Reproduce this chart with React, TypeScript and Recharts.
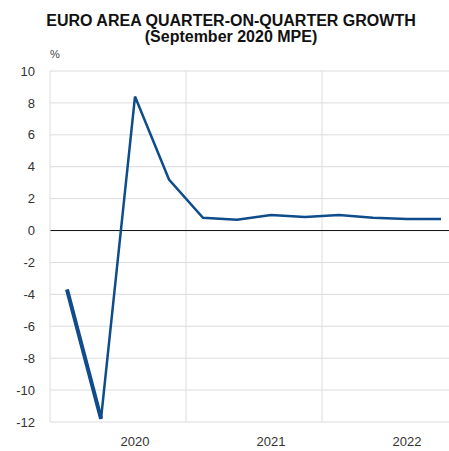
import { CartesianGrid, Line, LineChart, ReferenceLine, XAxis, YAxis } from "recharts"

const quarters = [
  "2020Q1", "2020Q2", "2020Q3", "2020Q4",
  "2021Q1", "2021Q2", "2021Q3", "2021Q4",
  "2022Q1", "2022Q2", "2022Q3", "2022Q4",
]
const outturn = [-3.7, -11.8, null, null, null, null, null, null, null, null, null, null]
const projection = [-3.7, -11.8, 8.4, 3.2, 0.8, 0.67, 0.97, 0.85, 0.97, 0.8, 0.73, 0.73]
const yTicks = [-12, -10, -8, -6, -4, -2, 0, 2, 4, 6, 8, 10]
const yearTicks = [2020.625, 2021.625, 2022.625]
const yearBreaks = [2021, 2022]

const data = quarters.map((q, i) => ({
  t: Number(q.slice(0, 4)) + (Number(q.slice(5)) - 0.5) / 4,
  outturn: outturn[i],
  projection: projection[i],
}))

const tickStyle = { fill: "#333", fontSize: 13, fontFamily: "Liberation Sans, Arial, sans-serif" }

const titleStyle = {
  position: "absolute" as const,
  left: 0,
  width: 462,
  textAlign: "center" as const,
  fontWeight: 700,
  fontSize: 16,
  lineHeight: "16px",
  color: "#111",
}

export default function App() {
  return (
    <div
      style={{
        position: "fixed",
        left: 0,
        top: 0,
        width: 449,
        height: 451,
        overflow: "hidden",
        background: "#fff",
        fontFamily: "Liberation Sans, Arial, sans-serif",
      }}
    >
      <div style={{ ...titleStyle, top: 13 }}>EURO AREA QUARTER-ON-QUARTER GROWTH</div>
      <div style={{ ...titleStyle, top: 29 }}>(September 2020 MPE)</div>
      <div style={{ position: "absolute", left: 50, top: 48, fontSize: 11, color: "#444" }}>%</div>
      <div style={{ position: "absolute", left: 0, top: 0 }}>
        <LineChart width={470} height={451} data={data} margin={{ top: 71, right: 12, left: 0, bottom: 0 }}>
          <CartesianGrid stroke="#dcdcdc" vertical={false} />
          <XAxis
            dataKey="t"
            type="number"
            domain={[2020, 2023]}
            ticks={yearTicks}
            tickFormatter={(v: number) => String(Math.floor(v))}
            tickLine={false}
            axisLine={false}
            tick={tickStyle}
            tickMargin={9}
            height={29}
          />
          <YAxis
            domain={[-12, 10]}
            ticks={yTicks}
            interval={0}
            tickLine={false}
            axisLine={{ stroke: "#dcdcdc" }}
            tick={tickStyle}
            tickMargin={9}
            width={50}
          />
          {yearBreaks.map((y) => (
            <ReferenceLine key={y} x={y} stroke="#dcdcdc" />
          ))}
          <ReferenceLine y={0} stroke="#111" />
          <Line
            dataKey="outturn"
            stroke="#0f4c8c"
            strokeWidth={4}
            dot={false}
            isAnimationActive={false}
          />
          <Line
            dataKey="projection"
            stroke="#0f4c8c"
            strokeWidth={2.5}
            dot={false}
            isAnimationActive={false}
          />
        </LineChart>
      </div>
    </div>
  )
}
